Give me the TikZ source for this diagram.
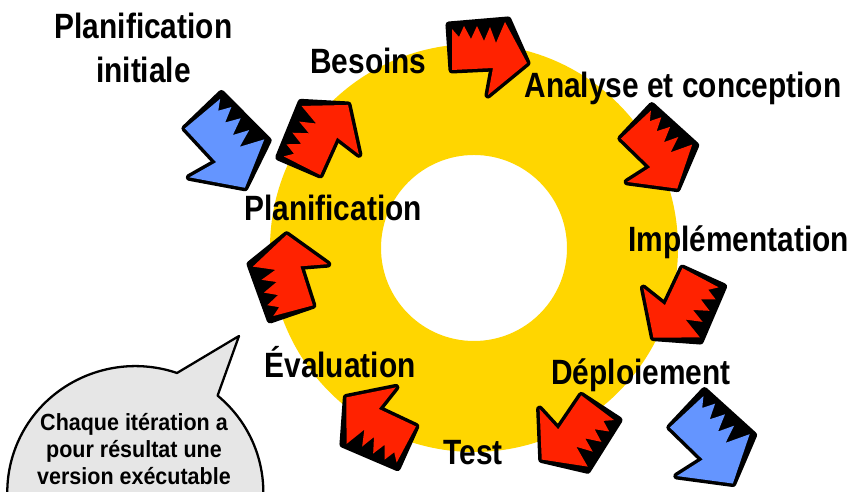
\documentclass[tikz,border=0pt]{standalone}
\usepackage{fontspec}
\newfontfamily\lblfont[FakeStretch=0.85]{Liberation Sans}
\newfontfamily\notefont[FakeStretch=0.92]{Liberation Sans}
\usepackage{tikz}
\usetikzlibrary{positioning}

\definecolor{ringyellow}{RGB}{255,214,0}
\definecolor{arrowred}{RGB}{255,34,0}
\definecolor{arrowblue}{RGB}{100,149,255}
\definecolor{bubblegray}{RGB}{230,230,230}

\begin{document}
\begin{tikzpicture}[
    x=0.02cm, y=0.02cm,
    phase/.style={font=\lblfont\bfseries\fontsize{20}{25.5}\selectfont, inner sep=0pt, anchor=base, align=center},
    note/.style={font=\notefont\bfseries\fontsize{13.3}{15.6}\selectfont, inner sep=0pt, anchor=base, align=center},
    bubble/.style={fill=bubblegray, draw=black, line width=1.3pt, line join=round},
    pics/jagged/.style={code={
        \filldraw[black, line width=4pt, line join=round]
            (-36,-13) -- (-39,32) -- (20,37) -- (39,-6) -- (0,-38) -- (5,-11) -- cycle;
        \fill[#1] (-36,-13) -- (-36,28) -- (-29,20) -- (-24,31) -- (-17,18) -- (-11,31)
            -- (-4,16) -- (2,30) -- (8,14) -- (17,35) -- (39,-6) -- (0,-38) -- (5,-11) -- cycle;
    }}
]
\useasboundingbox (0,0) rectangle (856,492);
\clip (0,0) rectangle (856,492);

% ring
\fill[ringyellow, even odd rule] (474,244) circle[radius=204] (474,244) circle[radius=93];

% iteration arrows
\pic[rotate=0] at (488,435) {jagged=arrowred};
\pic[rotate=-47] at (655,336) {jagged=arrowred};
\pic[rotate=-118] at (677,186) {jagged=arrowred};
\pic[rotate=-127] at (570,60) {jagged=arrowred};
\pic[rotate=152] at (378,71) {jagged=arrowred};
\pic[rotate=105] at (291,218) {jagged=arrowred};
\pic[rotate=63] at (325,355) {jagged=arrowred};

% entry / exit
\pic[rotate=-50, scale=1.12] at (222,342) {jagged=arrowblue};
\pic[rotate=-47, scale=1.12] at (708,45) {jagged=arrowblue};

% phases
\node[phase] (planInit) at (143.5,409) {Planification\\initiale};
\node[phase] (besoins) at (368.5,418) {Besoins};
\node[phase] (analyse) at (683,394) {Analyse et conception};
\node[phase] (plan) at (333,271) {Planification};
\node[phase] (impl) at (738.5,240) {Implémentation};
\node[phase] (deploi) at (641,107) {Déploiement};
\node[phase] (evalu) at (340,114) {Évaluation};
\node[phase] (test) at (473,27) {Test};

% callout
\filldraw[bubble] (177,119)
    arc[start angle=71, end angle=410, x radius=128, y radius=126] -- (239,156) -- cycle;
\node[note] (iterNote) at (134,7) {Chaque itération a\\pour résultat une\\version exécutable};

\end{tikzpicture}
\end{document}
